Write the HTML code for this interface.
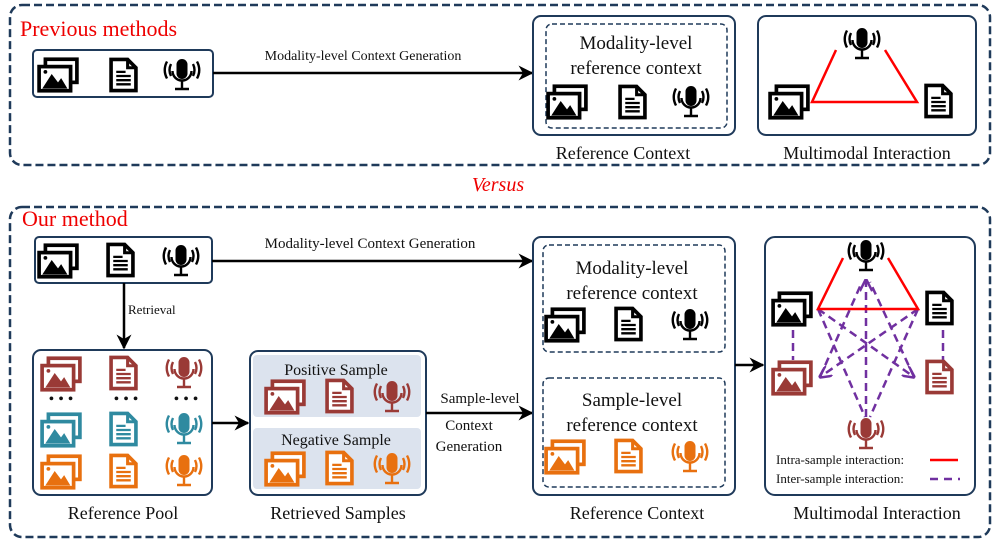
<!DOCTYPE html>
<html><head><meta charset="utf-8"><style>
html,body{margin:0;padding:0;background:#fff;}
svg{display:block;}
text{font-family:"Liberation Serif",serif;fill:#111;}
</style></head><body>
<svg width="997" height="545" viewBox="0 0 997 545" xmlns="http://www.w3.org/2000/svg">
<defs>
<symbol id="img" viewBox="0 0 40 34">
<rect x="8" y="2" width="30" height="22" fill="#fff" stroke="currentColor" stroke-width="3.5"/>
<rect x="2" y="9" width="30" height="23" fill="#fff" stroke="currentColor" stroke-width="3.5"/>
<polygon points="5,30 14,16 20,24 23,20 29,30" fill="currentColor"/>
<circle cx="8" cy="14" r="1.8" fill="currentColor"/>
</symbol>
<symbol id="doc" viewBox="0 0 28 34">
<path d="M2,2 H18 L26,10 V32 H2 Z" fill="#fff" stroke="currentColor" stroke-width="3.5" stroke-linejoin="miter"/>
<path d="M18,2 V10 H26" fill="none" stroke="currentColor" stroke-width="3"/>
<path d="M7,14 H16 M7,18 H21 M7,22 H21 M7,26 H21" stroke="currentColor" stroke-width="2.2"/>
</symbol>
<symbol id="mic" viewBox="0 0 40 34">
<rect x="14.5" y="1" width="11" height="20" rx="5.5" fill="currentColor"/>
<path d="M10.5,13 a9.5,9.5 0 0 0 19,0" fill="none" stroke="currentColor" stroke-width="2.4"/>
<path d="M20,22 V30 M13,31 H27" stroke="currentColor" stroke-width="2.4"/>
<path d="M9,6 q-3,6 0,12 M5,3.5 q-4.5,8.5 0,17 M31,6 q3,6 0,12 M35,3.5 q4.5,8.5 0,17" fill="none" stroke="currentColor" stroke-width="2.4"/>
</symbol>
<marker id="ah" viewBox="0 0 10 10" refX="9" refY="5" markerWidth="6" markerHeight="6" orient="auto"><path d="M0,0 L10,5 L0,10 L3,5 Z" fill="#000"/></marker>
<marker id="ap" viewBox="0 0 10 10" refX="9" refY="5" markerWidth="5" markerHeight="5" orient="auto"><path d="M0,0 L10,5 L0,10" fill="none" stroke="#7030a0" stroke-width="2"/></marker>
</defs>

<!-- TOP -->
<rect x="10" y="5" width="980" height="160" rx="12" fill="none" stroke="#1f3a5a" stroke-width="2.5" stroke-dasharray="8,4"/>
<text x="20" y="36" font-size="22" style="fill:#e00">Previous methods</text>
<rect x="33" y="50" width="180" height="47" rx="4" fill="#fff" stroke="#1f3a5a" stroke-width="2"/>
<use href="#img" x="37" y="57" width="42" height="36" color="#000"/>
<use href="#doc" x="109" y="57" width="29" height="36" color="#000"/>
<use href="#mic" x="161" y="58" width="42" height="34" color="#000"/>
<line x1="213" y1="73" x2="532" y2="73" stroke="#000" stroke-width="2.5" marker-end="url(#ah)"/>
<text x="363" y="60" font-size="14" text-anchor="middle">Modality-level Context Generation</text>
<rect x="533" y="16" width="202" height="119" rx="8" fill="#fff" stroke="#1f3a5a" stroke-width="2"/>
<rect x="546" y="24" width="181" height="104" rx="6" fill="none" stroke="#1f3a5a" stroke-width="1.5" stroke-dasharray="5,3"/>
<text x="636" y="49" font-size="19" text-anchor="middle">Modality-level</text>
<text x="636" y="74" font-size="19" text-anchor="middle">reference context</text>
<use href="#img" x="546" y="84" width="42" height="36" color="#000"/>
<use href="#doc" x="618" y="84" width="29" height="36" color="#000"/>
<use href="#mic" x="670" y="85" width="42" height="34" color="#000"/>
<text x="623" y="159" font-size="18" text-anchor="middle">Reference Context</text>
<rect x="758" y="16" width="218" height="119" rx="8" fill="#fff" stroke="#1f3a5a" stroke-width="2"/>
<path d="M836,50 L812,102 L917,102 L885,50" fill="none" stroke="#f00" stroke-width="2.5"/>
<use href="#mic" x="841" y="27" width="42" height="34" color="#000"/>
<use href="#img" x="768" y="84" width="42" height="36" color="#000"/>
<use href="#doc" x="924" y="83" width="29" height="36" color="#000"/>
<text x="867" y="159" font-size="18" text-anchor="middle">Multimodal Interaction</text>

<text x="498" y="191" font-size="20" font-style="italic" text-anchor="middle" style="fill:#e00">Versus</text>

<!-- BOTTOM -->
<rect x="10" y="207" width="980" height="330" rx="12" fill="none" stroke="#1f3a5a" stroke-width="2.5" stroke-dasharray="8,4"/>
<text x="22" y="226" font-size="22" style="fill:#e00">Our method</text>
<rect x="35" y="237" width="177" height="46" rx="4" fill="#fff" stroke="#1f3a5a" stroke-width="2"/>
<use href="#img" x="37" y="243" width="42" height="36" color="#000"/>
<use href="#doc" x="106" y="242" width="29" height="36" color="#000"/>
<use href="#mic" x="160" y="244" width="42" height="34" color="#000"/>
<line x1="212" y1="261" x2="532" y2="261" stroke="#000" stroke-width="2.5" marker-end="url(#ah)"/>
<text x="370" y="248" font-size="15" text-anchor="middle">Modality-level Context Generation</text>
<line x1="124" y1="283" x2="124" y2="348" stroke="#000" stroke-width="2.5" marker-end="url(#ah)"/>
<text x="128" y="314" font-size="13">Retrieval</text>

<rect x="33" y="350" width="179" height="145" rx="8" fill="#fff" stroke="#1f3a5a" stroke-width="2"/>
<use href="#img" x="40" y="356" width="42" height="36" color="#9a3a36"/>
<use href="#doc" x="109" y="355" width="29" height="36" color="#9a3a36"/>
<use href="#mic" x="163" y="356" width="42" height="34" color="#9a3a36"/>
<text x="61" y="404" font-size="16" text-anchor="middle">• • •</text>
<text x="126" y="404" font-size="16" text-anchor="middle">• • •</text>
<text x="186" y="404" font-size="16" text-anchor="middle">• • •</text>
<use href="#img" x="40" y="412" width="42" height="36" color="#2f8aa0"/>
<use href="#doc" x="109" y="411" width="29" height="36" color="#2f8aa0"/>
<use href="#mic" x="163" y="412" width="42" height="34" color="#2f8aa0"/>
<use href="#img" x="40" y="454" width="42" height="36" color="#e8700f"/>
<use href="#doc" x="109" y="453" width="29" height="36" color="#e8700f"/>
<use href="#mic" x="163" y="454" width="42" height="34" color="#e8700f"/>
<text x="123" y="519" font-size="18" text-anchor="middle">Reference Pool</text>
<line x1="212" y1="423" x2="248" y2="423" stroke="#000" stroke-width="2.5" marker-end="url(#ah)"/>

<rect x="250" y="351" width="176" height="144" rx="8" fill="#fff" stroke="#1f3a5a" stroke-width="2"/>
<rect x="253" y="355" width="168" height="62" rx="4" fill="#dce3ee"/>
<rect x="253" y="428" width="168" height="61" rx="4" fill="#dce3ee"/>
<text x="336" y="375" font-size="16" text-anchor="middle">Positive Sample</text>
<use href="#img" x="264" y="379" width="42" height="36" color="#9a3a36"/>
<use href="#doc" x="325" y="378" width="29" height="36" color="#9a3a36"/>
<use href="#mic" x="371" y="380" width="42" height="34" color="#9a3a36"/>
<text x="336" y="445" font-size="16" text-anchor="middle">Negative Sample</text>
<use href="#img" x="264" y="451" width="42" height="36" color="#e8700f"/>
<use href="#doc" x="325" y="450" width="29" height="36" color="#e8700f"/>
<use href="#mic" x="371" y="452" width="42" height="34" color="#e8700f"/>
<text x="338" y="519" font-size="18" text-anchor="middle">Retrieved Samples</text>

<line x1="426" y1="413" x2="532" y2="413" stroke="#000" stroke-width="2.5" marker-end="url(#ah)"/>
<text x="480" y="403" font-size="15" text-anchor="middle">Sample-level</text>
<text x="469" y="430" font-size="15" text-anchor="middle">Context</text>
<text x="469" y="451" font-size="15" text-anchor="middle">Generation</text>

<rect x="533" y="237" width="202" height="258" rx="8" fill="#fff" stroke="#1f3a5a" stroke-width="2"/>
<rect x="543" y="245" width="182" height="107" rx="6" fill="none" stroke="#1f3a5a" stroke-width="1.5" stroke-dasharray="5,3"/>
<text x="632" y="274" font-size="19" text-anchor="middle">Modality-level</text>
<text x="632" y="299" font-size="19" text-anchor="middle">reference context</text>
<use href="#img" x="544" y="307" width="42" height="36" color="#000"/>
<use href="#doc" x="614" y="306" width="29" height="36" color="#000"/>
<use href="#mic" x="669" y="308" width="42" height="34" color="#000"/>
<rect x="543" y="378" width="182" height="109" rx="6" fill="none" stroke="#1f3a5a" stroke-width="1.5" stroke-dasharray="5,3"/>
<text x="632" y="406" font-size="19" text-anchor="middle">Sample-level</text>
<text x="632" y="431" font-size="19" text-anchor="middle">reference context</text>
<use href="#img" x="544" y="439" width="42" height="36" color="#e8700f"/>
<use href="#doc" x="614" y="438" width="29" height="36" color="#e8700f"/>
<use href="#mic" x="669" y="440" width="42" height="34" color="#e8700f"/>
<text x="637" y="519" font-size="18" text-anchor="middle">Reference Context</text>

<line x1="735" y1="365" x2="763" y2="365" stroke="#000" stroke-width="2.5" marker-end="url(#ah)"/>

<rect x="765" y="237" width="210" height="258" rx="10" fill="#fff" stroke="#1f3a5a" stroke-width="2"/>
<g stroke="#7030a0" stroke-width="2.5" stroke-dasharray="8,5" fill="none">
<line x1="818" y1="309" x2="914" y2="377" marker-end="url(#ap)"/>
<line x1="818" y1="309" x2="865" y2="417"/>
<line x1="918" y1="309" x2="820" y2="377" marker-end="url(#ap)"/>
<line x1="918" y1="309" x2="870" y2="417"/>
<line x1="866" y1="417" x2="866" y2="280" marker-end="url(#ap)"/>
<line x1="820" y1="377" x2="862" y2="282"/>
<line x1="914" y1="377" x2="870" y2="282"/>
<line x1="793" y1="330" x2="793" y2="360"/>
<line x1="943" y1="330" x2="943" y2="360"/>
</g>
<path d="M843,258 L818,309 L918,309 L888,258" fill="none" stroke="#f00" stroke-width="2.5"/>
<use href="#mic" x="845" y="239" width="42" height="34" color="#000"/>
<use href="#img" x="771" y="291" width="42" height="36" color="#000"/>
<use href="#doc" x="925" y="290" width="29" height="36" color="#000"/>
<use href="#img" x="771" y="360" width="42" height="36" color="#9a3a36"/>
<use href="#doc" x="925" y="359" width="29" height="36" color="#9a3a36"/>
<use href="#mic" x="845" y="417" width="42" height="34" color="#9a3a36"/>
<text x="776" y="464" font-size="13">Intra-sample interaction:</text>
<line x1="930" y1="460" x2="958" y2="460" stroke="#f00" stroke-width="2.5"/>
<text x="776" y="483" font-size="13">Inter-sample interaction:</text>
<line x1="930" y1="479" x2="960" y2="479" stroke="#7030a0" stroke-width="2.5" stroke-dasharray="8,6"/>
<text x="877" y="519" font-size="18" text-anchor="middle">Multimodal Interaction</text>
</svg>
</body></html>
